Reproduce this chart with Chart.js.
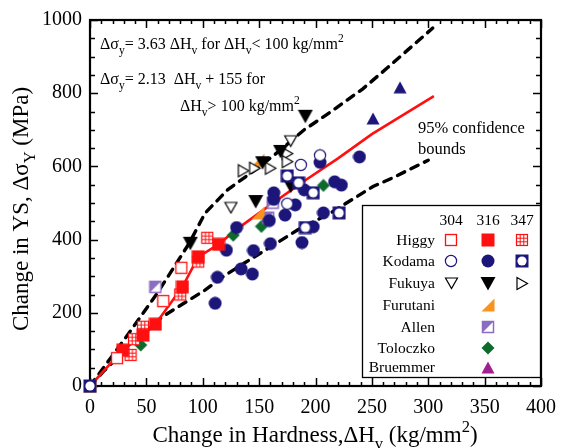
<!DOCTYPE html>
<html>
<head>
<meta charset="utf-8">
<script src="https://cdn.jsdelivr.net/npm/chart.js@4.4.0/dist/chart.umd.min.js"></script>
<style>
html, body { margin: 0; padding: 0; background: #fff; }
canvas { display: block; }
</style>
</head>
<body>
<canvas id="chart" width="566" height="448" style="width:566px;height:448px"></canvas>
<script>
// data: [change in hardness, change in yield strength]
const higgy304 = [[24, 76], [65, 232], [81, 323]];
const higgy316 = [[29, 98], [47, 139], [58, 169], [82, 271], [96, 353], [114, 387]];
const higgy347 = [[36, 85], [39, 128], [47, 162], [80, 250], [96, 340], [104, 405]];
const kodama304 = [[175, 498], [187, 604], [204, 630]];
const kodama316 = [[111, 226], [113, 297], [121, 371], [130, 433], [134, 320], [144, 306], [145, 370],
    [159, 452], [160, 389], [163, 528], [163, 510], [173, 467], [182, 495], [188, 392], [190, 536],
    [198, 435], [204, 611], [207, 473], [217, 558], [223, 549], [239, 626]];
const kodama347 = [[0, 0], [175, 574], [185, 555], [191, 433], [198, 528], [221, 473]];
const fukuya304 = [[125, 488], [178, 670]];
const fukuya316 = [[89, 390], [147, 504], [153, 610], [169, 641], [178, 546], [191, 737]];
const fukuya347 = [[136, 588], [146, 595], [160, 595], [175, 635], [175, 613]];
const furutani316 = [[0, 0], [149, 473], [149, 617]];
const allen316 = [[58, 271], [158, 460], [162, 501]];
const toloczko316 = [[0, 0], [45, 112], [127, 412], [152, 436], [207, 548]];
const bruemmer316 = [[0, 0], [251, 731], [275, 816]];

const fitLine = [[0, 0], [29, 98], [47, 139], [58, 169], [82, 271], [96, 353], [114, 387], [130, 428],
    [160, 495], [190, 560], [220, 622], [250, 688], [280, 745], [305, 792]];
const upperBound = [[0, 0], [30, 125], [60, 255], [88, 390], [102, 472], [122, 536], [149, 596],
    [169, 645], [190, 700], [213, 748], [242, 812], [264, 870], [304, 978]];
const lowerBound = [[0, 0], [12, 40], [40, 125], [64, 189], [102, 262], [120, 303], [137, 336],
    [146, 353], [184, 426], [213, 472], [251, 545], [268, 568], [300, 617]];

const xTicks = [0, 50, 100, 150, 200, 250, 300, 350, 400];
const yTicks = [0, 200, 400, 600, 800, 1000];

const SERIF = '"Liberation Serif", "Times New Roman", serif';
const RED = '#ff1010';
const NAVY = '#1d167a';
const ORANGE = '#f7931e';
const PURPLE = '#8a6cc0';
const GREEN = '#0d6a2c';
const MAGENTA = '#a0208e';

// marker images
function mk(w, h, draw) {
    const c = document.createElement('canvas');
    c.width = w; c.height = h;
    draw(c.getContext('2d'));
    return c;
}
function poly(g, p) {
    g.beginPath();
    g.moveTo(p[0][0], p[0][1]);
    for (let i = 1; i < p.length; i++) g.lineTo(p[i][0], p[i][1]);
    g.closePath();
}
const M = {
    sqOpen: mk(14, 14, g => {
        g.fillStyle = '#fff'; g.fillRect(1, 1, 12, 12);
        g.strokeStyle = RED; g.lineWidth = 1.3; g.strokeRect(1.5, 1.5, 11, 11);
    }),
    sqFill: mk(14, 14, g => { g.fillStyle = RED; g.fillRect(0.5, 0.5, 13, 13); }),
    sqGrid: mk(14, 14, g => {
        g.fillStyle = '#fff'; g.fillRect(1, 1, 12, 12);
        g.strokeStyle = RED; g.lineWidth = 1.2; g.strokeRect(1.5, 1.5, 11, 11);
        g.lineWidth = 1;
        g.beginPath();
        [5.2, 8.8].forEach(v => { g.moveTo(v, 1.5); g.lineTo(v, 12.5); g.moveTo(1.5, v); g.lineTo(12.5, v); });
        g.stroke();
    }),
    circOpen: mk(14, 14, g => {
        g.beginPath(); g.arc(7, 7, 5.6, 0, Math.PI * 2);
        g.fillStyle = '#fff'; g.fill();
        g.strokeStyle = NAVY; g.lineWidth = 1.2; g.stroke();
    }),
    circFill: mk(14, 14, g => {
        g.beginPath(); g.arc(7, 7, 6.5, 0, Math.PI * 2);
        g.fillStyle = NAVY; g.fill();
    }),
    sqCirc: mk(14, 14, g => {
        g.fillStyle = NAVY; g.fillRect(0.5, 0.5, 13, 13);
        g.beginPath(); g.arc(7, 7, 4.6, 0, Math.PI * 2);
        g.fillStyle = '#fff'; g.fill();
    }),
    triDownOpen: mk(15, 14, g => {
        poly(g, [[1.5, 2], [13.5, 2], [7.5, 12.5]]);
        g.fillStyle = '#fff'; g.fill();
        g.strokeStyle = '#000'; g.lineWidth = 1.2; g.stroke();
    }),
    triDownFill: mk(16, 15, g => {
        poly(g, [[0.5, 1], [15.5, 1], [8, 14.5]]);
        g.fillStyle = '#000'; g.fill();
    }),
    triRightOpen: mk(14, 15, g => {
        poly(g, [[2, 1.5], [2, 13.5], [12.5, 7.5]]);
        g.fillStyle = '#fff'; g.fill();
        g.strokeStyle = '#000'; g.lineWidth = 1.2; g.stroke();
    }),
    rightTri: mk(14, 14, g => {
        poly(g, [[0.5, 13.5], [13.5, 13.5], [13.5, 0.5]]);
        g.fillStyle = ORANGE; g.fill();
    }),
    halfSq: mk(14, 14, g => {
        g.fillStyle = '#fff'; g.fillRect(1, 1, 12, 12);
        poly(g, [[1, 1], [13, 1], [1, 13]]);
        g.fillStyle = PURPLE; g.fill();
        g.strokeStyle = PURPLE; g.lineWidth = 1.5; g.strokeRect(1.5, 1.5, 11, 11);
    }),
    diamond: mk(14, 14, g => {
        poly(g, [[7, 0.5], [13.5, 7], [7, 13.5], [0.5, 7]]);
        g.fillStyle = GREEN; g.fill();
    }),
    triUp: mk(14, 13, g => {
        poly(g, [[7, 0.5], [13.5, 12.5], [0.5, 12.5]]);
        g.fillStyle = NAVY; g.fill();
    }),
    triUpLegend: mk(14, 13, g => {
        poly(g, [[7, 0.5], [13.5, 12.5], [0.5, 12.5]]);
        g.fillStyle = MAGENTA; g.fill();
    })
};

function pts(arr) { return arr.map(p => ({ x: p[0], y: p[1] })); }
function markerSet(label, arr, img) {
    return { label: label, data: pts(arr), pointStyle: img, pointRadius: 6, showLine: false, clip: false, order: 0 };
}
function lineSet(label, arr, color, width, dash) {
    return {
        label: label, data: pts(arr), showLine: true, borderColor: color, borderWidth: width,
        borderDash: dash, borderCapStyle: dash.length ? 'round' : 'butt', pointRadius: 0,
        tension: 0, clip: false, order: 5
    };
}

// text with sub/superscripts
function drawRich(ctx, parts, x, y, size) {
    for (const [t, m] of parts) {
        const s = m ? size * 0.72 : size;
        ctx.font = s + 'px ' + SERIF;
        const dy = m === 'sub' ? size * 0.3 : (m === 'sup' ? -size * 0.42 : 0);
        ctx.fillText(t, x, y + dy);
        x += ctx.measureText(t).width;
    }
}
function richWidth(ctx, parts, size) {
    let w = 0;
    for (const [t, m] of parts) {
        ctx.font = (m ? size * 0.72 : size) + 'px ' + SERIF;
        w += ctx.measureText(t).width;
    }
    return w;
}

const framePlugin = {
    id: 'frame',
    beforeDatasetsDraw(chart) {
        const { ctx, chartArea: a, scales: { x, y } } = chart;
        ctx.save();
        ctx.strokeStyle = '#000';
        ctx.lineWidth = 1.5;
        ctx.beginPath();
        for (let v = 0; v <= 400; v += 10) {
            const px = Math.round(x.getPixelForValue(v)) + 0.5;
            const len = v % 50 === 0 ? 8 : 4;
            ctx.moveTo(px, a.bottom); ctx.lineTo(px, a.bottom - len);
            ctx.moveTo(px, a.top); ctx.lineTo(px, a.top + len);
        }
        for (let v = 0; v <= 1000; v += 50) {
            const py = Math.round(y.getPixelForValue(v)) + 0.5;
            const len = v % 200 === 0 ? 8 : 5;
            ctx.moveTo(a.left, py); ctx.lineTo(a.left + len, py);
            ctx.moveTo(a.right, py); ctx.lineTo(a.right - len, py);
        }
        ctx.stroke();
        ctx.lineWidth = 2.2;
        ctx.strokeRect(a.left, a.top, a.right - a.left, a.bottom - a.top);
        ctx.restore();
    },
    afterDatasetsDraw(chart) {
        const { ctx, chartArea: a } = chart;
        ctx.save();
        ctx.fillStyle = '#000';
        ctx.textAlign = 'left';
        ctx.textBaseline = 'alphabetic';

        // equations
        drawRich(ctx, [['Δσ', ''], ['y', 'sub'], ['= 3.63 ΔH', ''], ['v', 'sub'], [' for ΔH', ''], ['v', 'sub'],
            ['< 100 kg/mm', ''], ['2', 'sup']], a.left + 10, 49, 16);
        drawRich(ctx, [['Δσ', ''], ['y', 'sub'], ['= 2.13  ΔH', ''], ['v', 'sub'], [' + 155 for', '']],
            a.left + 10, 84, 16);
        drawRich(ctx, [['ΔH', ''], ['v', 'sub'], ['> 100 kg/mm', ''], ['2', 'sup']], a.left + 90, 111, 16);
        drawRich(ctx, [['95% confidence', '']], 418, 133, 16.5);
        drawRich(ctx, [['bounds', '']], 418, 154, 16.5);

        // axis titles
        const xt = [['Change in Hardness,ΔH', ''], ['v', 'sub'], [' (kg/mm', ''], ['2', 'sup'], [')', '']];
        const xw = richWidth(ctx, xt, 23);
        drawRich(ctx, xt, 315 - xw / 2, 442, 23);
        const yt = [['Change in YS, Δσ', ''], ['Y', 'sub'], [' (MPa)', '']];
        const yw = richWidth(ctx, yt, 23);
        ctx.save();
        ctx.translate(28, 209);
        ctx.rotate(-Math.PI / 2);
        drawRich(ctx, yt, -yw / 2, 0, 23);
        ctx.restore();

        // legend table
        const bx = 362, by = 205, bw = 178, bh = 172;
        ctx.fillStyle = '#fff';
        ctx.fillRect(bx, by, bw, bh);
        ctx.strokeStyle = '#000';
        ctx.lineWidth = 1.3;
        ctx.strokeRect(bx + 0.5, by + 0.5, bw, bh);
        ctx.fillStyle = '#000';
        ctx.font = '15.5px ' + SERIF;
        ctx.textAlign = 'center';
        const cols = [451, 488, 522];
        ['304', '316', '347'].forEach((t, i) => ctx.fillText(t, cols[i], 225));
        const rows = [
            ['Higgy', 240, [M.sqOpen, M.sqFill, M.sqGrid]],
            ['Kodama', 261, [M.circOpen, M.circFill, M.sqCirc]],
            ['Fukuya', 283, [M.triDownOpen, M.triDownFill, M.triRightOpen]],
            ['Furutani', 305, [null, M.rightTri, null]],
            ['Allen', 327, [null, M.halfSq, null]],
            ['Toloczko', 348, [null, M.diamond, null]],
            ['Bruemmer', 367, [null, M.triUpLegend, null]]
        ];
        ctx.textAlign = 'right';
        rows.forEach(([name, cy, imgs]) => {
            ctx.fillText(name, 435, cy + 5);
            imgs.forEach((img, i) => {
                if (img) ctx.drawImage(img, Math.round(cols[i] - img.width / 2), Math.round(cy - img.height / 2));
            });
        });
        ctx.restore();
    }
};

const ctx = document.getElementById('chart');
new Chart(ctx, {
    type: 'scatter',
    data: {
        datasets: [
            markerSet('Kodama 347', kodama347, M.sqCirc),
            markerSet('Higgy 304', higgy304, M.sqOpen),
            markerSet('Higgy 316', higgy316, M.sqFill),
            markerSet('Higgy 347', higgy347, M.sqGrid),
            markerSet('Kodama 304', kodama304, M.circOpen),
            markerSet('Kodama 316', kodama316, M.circFill),
            markerSet('Fukuya 304', fukuya304, M.triDownOpen),
            markerSet('Fukuya 316', fukuya316, M.triDownFill),
            markerSet('Fukuya 347', fukuya347, M.triRightOpen),
            markerSet('Furutani 316', furutani316, M.rightTri),
            markerSet('Allen 316', allen316, M.halfSq),
            markerSet('Toloczko 316', toloczko316, M.diamond),
            markerSet('Bruemmer 316', bruemmer316, M.triUp),
            lineSet('Fit', fitLine, RED, 2.6, []),
            lineSet('Upper bound', upperBound, '#000', 3.4, [8, 7]),
            lineSet('Lower bound', lowerBound, '#000', 3.4, [8, 7])
        ]
    },
    options: {
        responsive: false,
        animation: false,
        devicePixelRatio: 1,
        events: [],
        layout: { padding: { top: 20, right: 19, left: 0, bottom: 0 } },
        plugins: { legend: { display: false }, tooltip: { enabled: false } },
        scales: {
            x: {
                type: 'linear', min: 0, max: 400,
                afterFit: s => { s.height = 62; },
                afterBuildTicks: s => { s.ticks = xTicks.map(v => ({ value: v })); },
                grid: { display: false, drawTicks: false },
                border: { display: false },
                ticks: { color: '#000', font: { family: SERIF, size: 20 }, padding: 10, maxRotation: 0,
                    callback: v => String(v) }
            },
            y: {
                type: 'linear', min: 0, max: 1000,
                afterFit: s => { s.width = 90; },
                afterBuildTicks: s => { s.ticks = yTicks.map(v => ({ value: v })); },
                grid: { display: false, drawTicks: false },
                border: { display: false },
                ticks: { color: '#000', font: { family: SERIF, size: 20 }, padding: 8,
                    callback: v => String(v) }
            }
        }
    },
    plugins: [framePlugin]
});
</script>
</body>
</html>
